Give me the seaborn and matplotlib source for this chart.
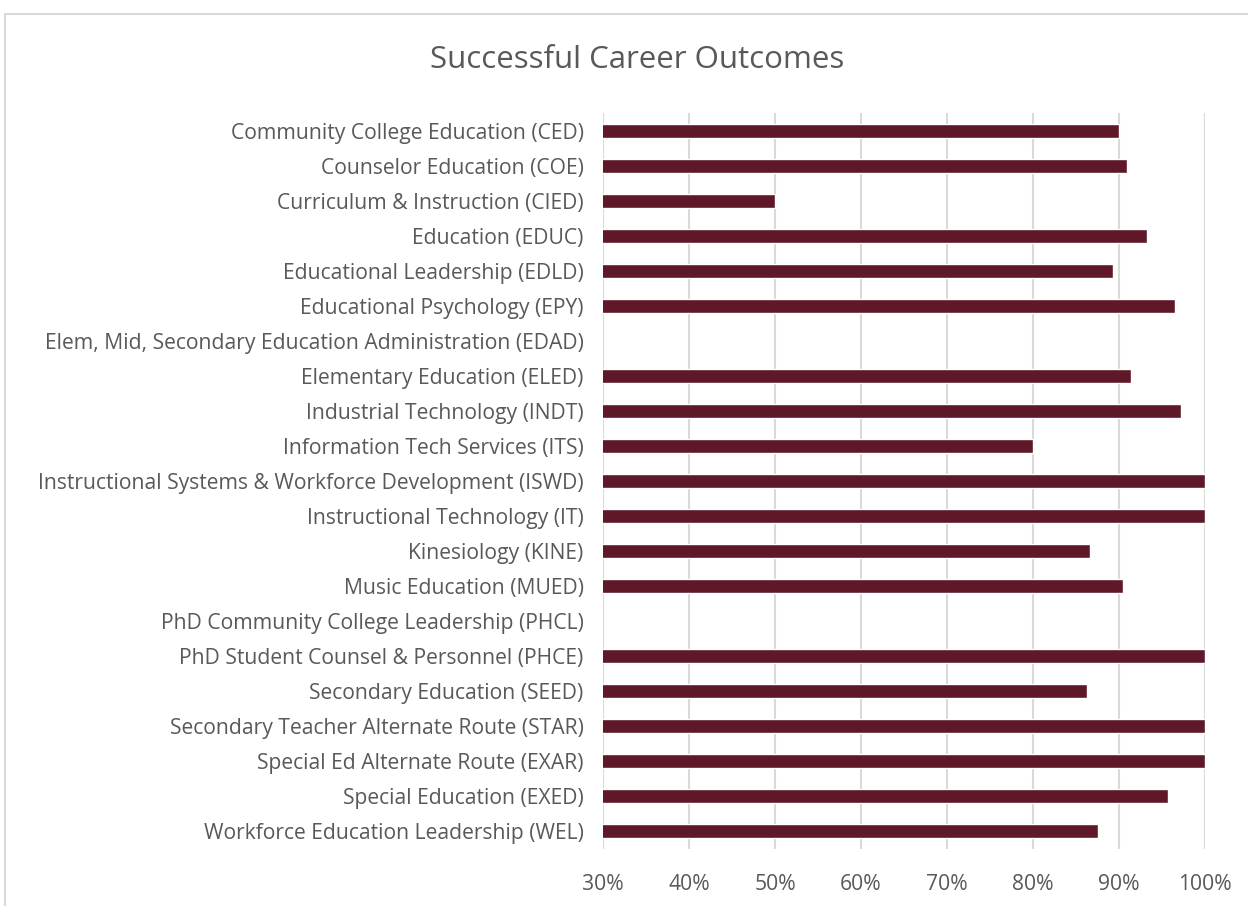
import numpy as np
import pandas as pd
import seaborn as sns
import matplotlib.pyplot as plt
from matplotlib.ticker import PercentFormatter
from matplotlib.lines import Line2D

programs = [
    "Community College Education (CED)",
    "Counselor Education (COE)",
    "Curriculum & Instruction (CIED)",
    "Education (EDUC)",
    "Educational Leadership (EDLD)",
    "Educational Psychology (EPY)",
    "Elem, Mid, Secondary Education Administration (EDAD)",
    "Elementary Education (ELED)",
    "Industrial Technology (INDT)",
    "Information Tech Services (ITS)",
    "Instructional Systems & Workforce Development (ISWD)",
    "Instructional Technology (IT)",
    "Kinesiology (KINE)",
    "Music Education (MUED)",
    "PhD Community College Leadership (PHCL)",
    "PhD Student Counsel & Personnel (PHCE)",
    "Secondary Education (SEED)",
    "Secondary Teacher Alternate Route (STAR)",
    "Special Ed Alternate Route (EXAR)",
    "Special Education (EXED)",
    "Workforce Education Leadership (WEL)",
]
# blank rows in the source have no bar
success = [0.900, 0.909, 0.500, 0.933, 0.893, 0.965, np.nan, 0.914, 0.972, 0.800,
           1.0, 1.0, 0.866, 0.905, np.nan, 1.0, 0.863, 1.0, 1.0, 0.957, 0.875]
ticks = [0.3, 0.4, 0.5, 0.6, 0.7, 0.8, 0.9, 1.0]

df = pd.DataFrame({"program": programs, "success": success})

sns.set_style("white")
plt.rcParams['font.family'] = ['Open Sans', 'DejaVu Sans']

fig = plt.figure(figsize=(12.48, 9.06), dpi=100)
ax = fig.add_axes([603 / 1248, 1 - 849 / 906, 602 / 1248, 736 / 906])

sns.barplot(data=df, y="program", x="success", order=programs, orient="h",
            color="#5E1827", saturation=1, width=0.4, ax=ax)

ax.set_xlim(0.3, 1.0)
ax.set_ylim(20.5, -0.5)
ax.set_xticks(ticks)
ax.xaxis.set_major_formatter(PercentFormatter(1.0, decimals=0))
ax.grid(axis="x", color="#d9d9d9", linewidth=1.5)
ax.set_axisbelow(True)
sns.despine(ax=ax, left=True, bottom=True)
ax.set_xlabel("")
ax.set_ylabel("")
ax.tick_params(axis="both", length=0, labelsize=15.2, colors="#595959")
ax.tick_params(axis="y", pad=14)
ax.tick_params(axis="x", pad=18)

fig.text(637 / 1248, 1 - 60 / 906, "Successful Career Outcomes", ha="center", va="center",
         fontsize=22.5, color="#595959")

# chart frame, cut off on the right and bottom like the screenshot
fig.add_artist(Line2D([5 / 1248, 1], [1 - 14 / 906, 1 - 14 / 906], color="#d9d9d9", linewidth=1.5))
fig.add_artist(Line2D([5 / 1248, 5 / 1248], [0, 1 - 14 / 906], color="#d9d9d9", linewidth=1.5))

fig.savefig("out.png", dpi=100)
